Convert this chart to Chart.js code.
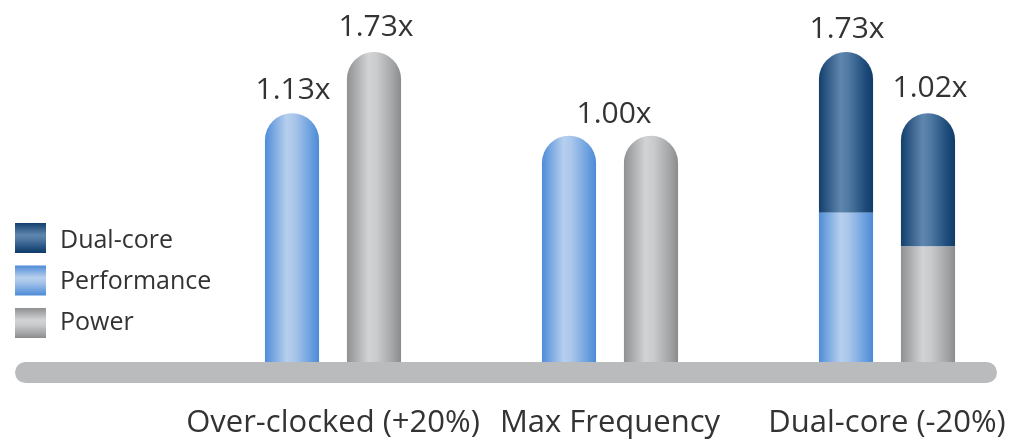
<!DOCTYPE html>
<html>
<head>
<meta charset="utf-8">
<script src="https://cdn.jsdelivr.net/npm/chart.js@4"></script>
<style>
  html, body { margin: 0; padding: 0; background: #fff; }
</style>
</head>
<body>
<canvas id="scalingChart" width="1019" height="440"></canvas>
<script>
const categories = ['Over-clocked (+20%)', 'Max Frequency', 'Dual-core (-20%)'];
// bar heights as drawn, relative to the Max Frequency bars (=1)
const performanceHeights = [1.10, 1.00, 0.66];
const powerHeights = [1.37, 1.00, 0.51];
const dualCoreOnPerformance = [null, null, 0.71];
const dualCoreOnPower = [null, null, 0.59];
// ratios printed above each group
const topLabels = [['1.13x', '1.73x'], ['1.00x'], ['1.73x', '1.02x']];
const legendNames = ['Dual-core', 'Performance', 'Power'];

const CAT_PCT = 0.592;
const BAR_PCT = 0.66;
const textColor = '#333333';
const fontFamily = '"Open Sans", "Noto Sans", sans-serif';

const stopPos = [0, 0.4, 0.55, 0.85, 1];
const shades = {
  perf: ['#4f8cd8', '#b6cfee', '#a9c6ea', '#6a9fdf', '#4d8ad6'],
  power: ['#8f9092', '#d2d3d5', '#cacbcd', '#a3a4a6', '#8a8b8d'],
  dual: ['#123f6d', '#5f86ae', '#4f79a3', '#1f4c7b', '#0f3b69']
};

function makeGradient(ctx, x0, y0, x1, y1, colors) {
  const g = ctx.createLinearGradient(x0, y0, x1, y1);
  colors.forEach((c, i) => g.addColorStop(stopPos[i], c));
  return g;
}

// horizontal "cylinder" shading, placed from the x scale
function barFill(name) {
  return function (c) {
    const xs = c.chart.scales.x;
    if (!xs || c.dataIndex === undefined) return shades[name][1];
    const step = xs.getPixelForValue(1) - xs.getPixelForValue(0);
    const chunk = step * CAT_PCT / 2;
    const side = c.dataset.stack === 'perf' ? -1 : 1;
    const cx = xs.getPixelForValue(c.dataIndex) + side * chunk / 2;
    const w = chunk * BAR_PCT;
    if (!Number.isFinite(cx) || !Number.isFinite(w) || w <= 0) return shades[name][1];
    return makeGradient(c.chart.ctx, cx - w / 2, 0, cx + w / 2, 0, shades[name]);
  };
}

const roundTop = { topLeft: 27, topRight: 27, bottomLeft: 0, bottomRight: 0 };

const decorPlugin = {
  id: 'decor',
  beforeDatasetsDraw(chart) {
    const ctx = chart.ctx;
    const y = chart.chartArea.bottom;
    ctx.save();
    ctx.fillStyle = '#babbbd';
    ctx.beginPath();
    ctx.roundRect(15, y, 982, 21, 10.5);
    ctx.fill();
    ctx.restore();
  },
  afterDatasetsDraw(chart) {
    const ctx = chart.ctx;
    ctx.save();
    ctx.fillStyle = textColor;
    ctx.textAlign = 'center';
    ctx.textBaseline = 'alphabetic';
    ctx.font = '30px ' + fontFamily;
    // value labels above the top-most segment of each stack
    categories.forEach((cat, i) => {
      const perfEl = dualCoreOnPerformance[i] != null ? chart.getDatasetMeta(1).data[i] : chart.getDatasetMeta(0).data[i];
      const powEl = dualCoreOnPower[i] != null ? chart.getDatasetMeta(3).data[i] : chart.getDatasetMeta(2).data[i];
      const labels = topLabels[i];
      if (labels.length === 2) {
        ctx.fillText(labels[0], perfEl.x + 1, perfEl.y - 14);
        ctx.fillText(labels[1], powEl.x + 2, powEl.y - 16);
      } else {
        ctx.fillText(labels[0], (perfEl.x + powEl.x) / 2 + 4, Math.min(perfEl.y, powEl.y) - 13);
      }
    });
    // legend
    const legendShades = [shades.dual, shades.perf, shades.power];
    ctx.textAlign = 'left';
    ctx.font = '25px ' + fontFamily;
    legendNames.forEach((name, i) => {
      const top = 223 + i * 42.5;
      ctx.fillStyle = makeGradient(ctx, 0, top, 0, top + 30, legendShades[i]);
      ctx.fillRect(15, top, 31, 30);
      ctx.fillStyle = textColor;
      ctx.fillText(name, 60, top + 25 - (i * 1.5));
    });
    ctx.restore();
  }
};

new Chart(document.getElementById('scalingChart'), {
  type: 'bar',
  data: {
    labels: categories,
    datasets: [
      { label: 'Performance', data: performanceHeights, stack: 'perf', backgroundColor: barFill('perf'),
        borderRadius: c => dualCoreOnPerformance[c.dataIndex] != null ? 0 : roundTop },
      { label: 'Dual-core', data: dualCoreOnPerformance, stack: 'perf', backgroundColor: barFill('dual'), borderRadius: roundTop },
      { label: 'Power', data: powerHeights, stack: 'power', backgroundColor: barFill('power'),
        borderRadius: c => dualCoreOnPower[c.dataIndex] != null ? 0 : roundTop },
      { label: 'Dual-core', data: dualCoreOnPower, stack: 'power', backgroundColor: barFill('dual'), borderRadius: roundTop }
    ]
  },
  options: {
    responsive: false,
    devicePixelRatio: 1,
    animation: false,
    layout: { padding: { left: 333, right: 132, top: 0, bottom: 0 } },
    datasets: { bar: { categoryPercentage: CAT_PCT, barPercentage: BAR_PCT, borderSkipped: 'start', clip: false } },
    scales: {
      x: {
        stacked: true,
        offset: false,
        grid: { display: false, drawTicks: false },
        border: { display: false },
        ticks: {
          color: textColor,
          // tall line box pushes the labels down without widening the side padding
          font: { family: fontFamily, size: 31, lineHeight: 3.33 },
          padding: 10,
          maxRotation: 0,
          minRotation: 0,
          autoSkip: false
        },
        afterFit: scale => { scale.height = 78; }
      },
      y: { stacked: true, display: false, min: 0, max: 1.6 }
    },
    plugins: { legend: { display: false }, tooltip: { enabled: false } }
  },
  plugins: [decorPlugin]
});
</script>
</body>
</html>
